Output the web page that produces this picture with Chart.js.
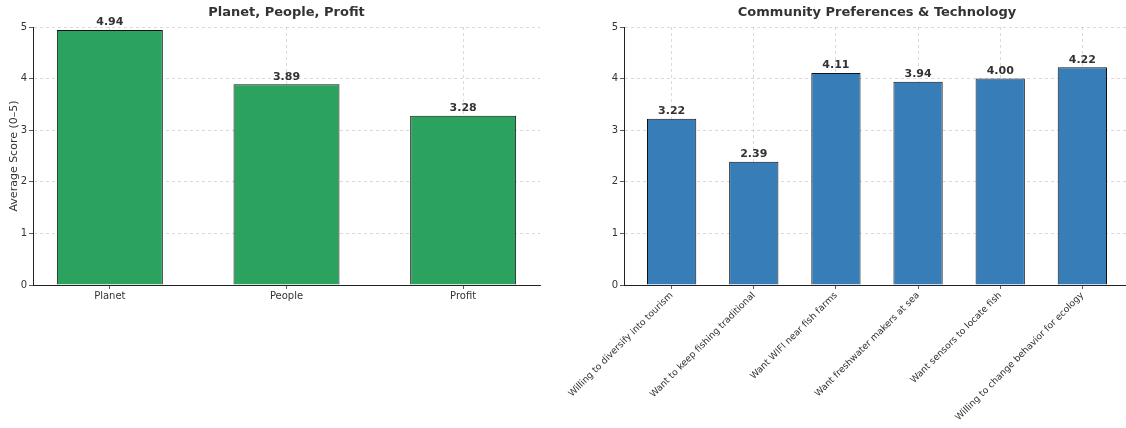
<!DOCTYPE html>
<html>
<head>
<meta charset="utf-8">
<script src="https://cdn.jsdelivr.net/npm/chart.js@4.4.1/dist/chart.umd.min.js"></script>
<style>
  html, body { margin: 0; padding: 0; background: #fff; overflow: hidden; width: 1126px; height: 428px; }
  canvas { position: absolute; top: 0; }
</style>
</head>
<body>
<canvas id="chart-ppp" width="545" height="428" style="left:0px;width:545px;height:428px"></canvas>
<canvas id="chart-comm" width="600" height="428" style="left:540px;width:600px;height:428px"></canvas>
<script>
// data
const pppLabels = ['Planet', 'People', 'Profit'];
const pppValues = [4.94, 3.89, 3.28];

const commLabels = [
    'Willing to diversify into tourism',
    'Want to keep fishing traditional',
    'Want WIFI near fish farms',
    'Want freshwater makers at sea',
    'Want sensors to locate fish',
    'Willing to change behavior for ecology'
];
const commValues = [3.22, 2.39, 4.11, 3.94, 4.00, 4.22];

const yTicks = [0, 1, 2, 3, 4, 5];

const FONT = 'DejaVu Sans';
const TEXT = '#333333';
const GRID = 'rgba(170,170,170,0.55)';

/* Draw value labels above each bar */
const valueLabels = {
    id: 'valueLabels',
    afterDraw(chart) {
        const ctx = chart.ctx;
        const meta = chart.getDatasetMeta(0);
        ctx.save();
        ctx.font = 'bold 11px "' + FONT + '"';
        ctx.fillStyle = TEXT;
        ctx.textAlign = 'center';
        ctx.textBaseline = 'bottom';
        meta.data.forEach((bar, i) => {
            const v = chart.data.datasets[0].data[i].y;
            ctx.fillText(v.toFixed(2), bar.x, bar.y - 2);
        });
        ctx.restore();
    }
};

/* Bar chart on a linear x axis so the margins match */
function makeBars(id, title, labels, values, color, xMin, xMax, opts) {
    const pts = values.map((v, i) => ({ x: i, y: v }));
    return new Chart(document.getElementById(id).getContext('2d'), {
        type: 'bar',
        data: {
            datasets: [{
                data: pts,
                backgroundColor: color,
                borderColor: '#111',
                borderWidth: 1,
                categoryPercentage: 1.0,
                barPercentage: 0.6
            }]
        },
        options: {
            responsive: false,
            animation: false,
            layout: { padding: { left: 0, right: opts.padRight, top: 0, bottom: 0 } },
            plugins: {
                legend: { display: false },
                tooltip: { enabled: false },
                title: {
                    display: true,
                    text: title,
                    fullSize: false,
                    color: TEXT,
                    font: { family: FONT, size: 13, weight: 'bold' },
                    padding: { top: 5, bottom: 6.4 }
                }
            },
            scales: {
                x: {
                    type: 'linear',
                    offset: false,
                    min: xMin,
                    max: xMax,
                    z: 1,
                    afterBuildTicks: (s) => { s.ticks = labels.map((_, i) => ({ value: i })); },
                    afterFit: (s) => { s.height = 143; s.paddingLeft = 0; s.paddingRight = 0; },
                    border: { display: true, color: '#222', width: 1, dash: [3, 3] },
                    grid: {
                        offset: false,
                        color: GRID,
                        lineWidth: 0.8,
                        drawTicks: true,
                        tickLength: 4,
                        tickColor: '#333',
                        tickBorderDash: []
                    },
                    ticks: {
                        autoSkip: false,
                        minRotation: opts.rot,
                        maxRotation: opts.rot,
                        padding: 1,
                        color: TEXT,
                        font: { family: FONT, size: opts.xFont },
                        callback: (v) => labels[v]
                    }
                },
                y: {
                    min: 0,
                    max: 5,
                    z: 1,
                    afterBuildTicks: (s) => { s.ticks = yTicks.map(v => ({ value: v })); },
                    afterFit: (s) => { s.width = opts.yWidth; },
                    border: { display: true, color: '#222', width: 1, dash: [3, 3] },
                    grid: {
                        color: GRID,
                        lineWidth: 0.8,
                        drawTicks: true,
                        tickLength: 4,
                        tickColor: '#333',
                        tickBorderDash: []
                    },
                    ticks: {
                        padding: 2,
                        color: TEXT,
                        font: { family: FONT, size: 10 }
                    },
                    title: {
                        display: !!opts.yTitle,
                        text: opts.yTitle || '',
                        color: TEXT,
                        font: { family: FONT, size: 11 },
                        padding: { top: 8, bottom: 0 }
                    }
                }
            }
        },
        plugins: [valueLabels]
    });
}

makeBars('chart-ppp', 'Planet, People, Profit', pppLabels, pppValues, '#2ca25f', -0.435, 2.435,
    { padRight: 5, rot: 0, xFont: 10, yWidth: 33, yTitle: 'Average Score (0\u20135)' });

makeBars('chart-comm', 'Community Preferences & Technology', commLabels, commValues, '#377eb8', -0.58, 5.58,
    { padRight: 10, rot: 45, xFont: 9.2, yWidth: 84, yTitle: null });
</script>
</body>
</html>
